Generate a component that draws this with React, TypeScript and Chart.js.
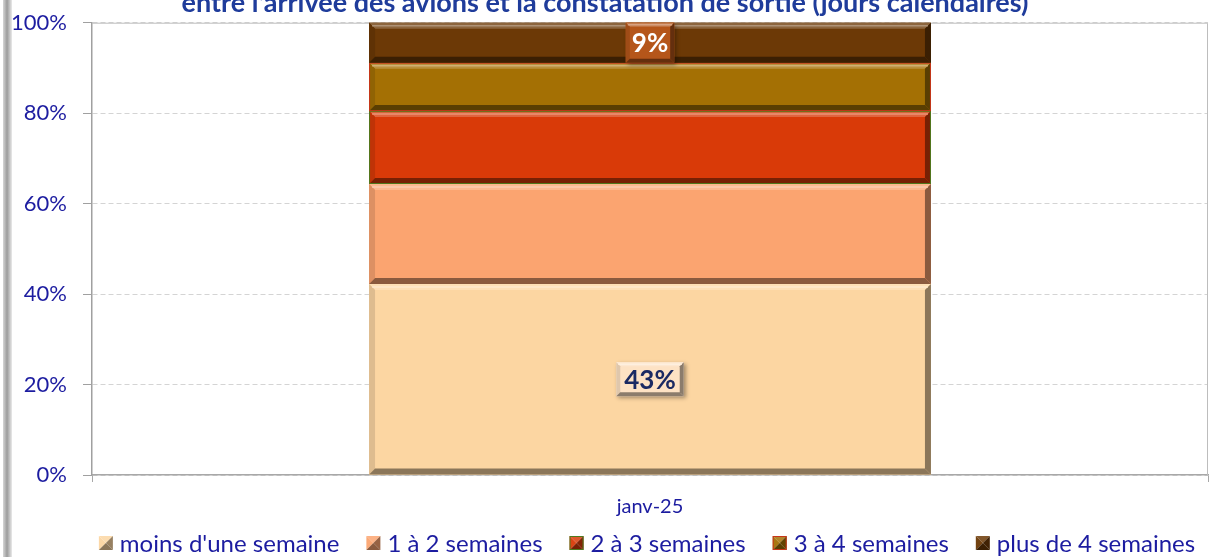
import React, { useEffect, useRef } from 'react';
import { Chart, registerables } from 'chart.js';

Chart.register(...registerables);

// ---------- data ----------
const categories = ['janv-25'];
const seriesNames = [
  "moins d'une semaine",
  '1 à 2 semaines',
  '2 à 3 semaines',
  '3 à 4 semaines',
  'plus de 4 semaines',
];
const moinsUneSemaine = [43];
const unADeuxSemaines = [22.5];
const deuxATroisSemaines = [16.4];
const troisAQuatreSemaines = [10.9];
const plusDeQuatreSemaines = [9];
const yTickLabels = ['0%', '20%', '40%', '60%', '80%', '100%'];
const titleText = "entre l'arrivée des avions et la constatation de sortie (jours calendaires)";

const rawSeries = [moinsUneSemaine, unADeuxSemaines, deuxATroisSemaines, troisAQuatreSemaines, plusDeQuatreSemaines];
const totals = categories.map((_, i) => rawSeries.reduce((s, arr) => s + arr[i], 0));
const shares = rawSeries.map((arr) => arr.map((v, i) => (v / totals[i]) * 100));

// ---------- styles ----------
const seriesColors = ['#FCD6A2', '#FBA470', '#D93A08', '#A47004', '#6C3906'];
const seriesEdges: (string | null)[] = [null, null, '#4F7A1E', '#C8361A', null];
const labelStyles: ({ fill: string; text: string; h: number | null; padX: number } | null)[] = [
  { fill: '#FDE2C4', text: '#1B2A63', h: 34, padX: 8 },
  null,
  null,
  null,
  { fill: '#B5561A', text: '#FFFFFF', h: null, padX: 6 },
];
const FONT = 'Lato, "Open Sans", sans-serif';
const NAVY = '#1C1CA0';

const mix = (hex: string, target: number, amt: number) => {
  const n = parseInt(hex.slice(1), 16);
  const r = (n >> 16) & 255, g = (n >> 8) & 255, b = n & 255;
  const f = (c: number) => Math.round(c + (target - c) * amt);
  return `rgb(${f(r)},${f(g)},${f(b)})`;
};
const lighten = (h: string, a: number) => mix(h, 255, a);
const darken = (h: string, a: number) => mix(h, 0, a);

function poly(ctx: CanvasRenderingContext2D, pts: number[][], fill: string) {
  ctx.beginPath();
  ctx.moveTo(pts[0][0], pts[0][1]);
  for (let i = 1; i < pts.length; i++) ctx.lineTo(pts[i][0], pts[i][1]);
  ctx.closePath();
  ctx.fillStyle = fill;
  ctx.fill();
}

function bevelRect(ctx: CanvasRenderingContext2D, l: number, t: number, w: number, h: number, color: string, bev: number) {
  const r = l + w, bot = t + h;
  const b = Math.min(bev, w / 2, h / 2);
  ctx.fillStyle = color;
  ctx.fillRect(l, t, w, h);
  poly(ctx, [[l, t], [r, t], [r - b, t + b], [l + b, t + b]], lighten(color, 0.22));
  poly(ctx, [[l, t], [l + b, t + b], [l + b, bot - b], [l, bot]], darken(color, 0.12));
  poly(ctx, [[r, t], [r, bot], [r - b, bot - b], [r - b, t + b]], darken(color, 0.45));
  poly(ctx, [[l, bot], [r, bot], [r - b, bot - b], [l + b, bot - b]], darken(color, 0.45));
  ctx.strokeStyle = lighten(color, 0.45);
  ctx.lineWidth = 1.5;
  ctx.beginPath();
  ctx.moveTo(l + b * 0.5, t + b * 0.5);
  ctx.lineTo(r - b * 0.5, t + b * 0.5);
  ctx.stroke();
}

const framePlugin = {
  id: 'frame',
  beforeDraw(chart: any) {
    const { ctx, width, height } = chart;
    ctx.save();
    ctx.fillStyle = '#FFFFFF';
    ctx.fillRect(0, 0, width, height);
    const g = ctx.createLinearGradient(3, 0, 12, 0);
    g.addColorStop(0, '#D6D6D6');
    g.addColorStop(0.45, '#9C9C9C');
    g.addColorStop(0.75, '#C6C6C6');
    g.addColorStop(1, '#EAEAEA');
    ctx.fillStyle = g;
    ctx.fillRect(3, 0, 9, height);
    ctx.restore();
  },
  beforeDatasetsDraw(chart: any) {
    const { ctx, chartArea: a } = chart;
    ctx.save();
    ctx.strokeStyle = '#BDBDBD';
    ctx.lineWidth = 1;
    ctx.beginPath();
    ctx.moveTo(a.left, a.top + 0.5);
    ctx.lineTo(a.right - 0.5, a.top + 0.5);
    ctx.lineTo(a.right - 0.5, a.bottom);
    ctx.stroke();
    ctx.restore();
  },
};

const bevelPlugin = {
  id: 'bevel',
  afterDatasetsDraw(chart: any) {
    const { ctx } = chart;
    ctx.save();
    chart.data.datasets.forEach((ds: any, di: number) => {
      const meta = chart.getDatasetMeta(di);
      meta.data.forEach((el: any) => {
        const p = el.getProps(['x', 'y', 'base', 'width'], true);
        const l = p.x - p.width / 2;
        const t = Math.min(p.y, p.base);
        const h = Math.abs(p.base - p.y);
        bevelRect(ctx, l, t, p.width, h, ds.backgroundColor, 6);
        const edge = seriesEdges[di];
        if (edge) {
          ctx.strokeStyle = edge;
          ctx.lineWidth = 1;
          ctx.strokeRect(l + 0.5, t + 0.5, p.width - 1, h - 1);
        }
      });
    });
    ctx.restore();
  },
};

const labelPlugin = {
  id: 'segLabels',
  afterDatasetsDraw(chart: any) {
    const { ctx } = chart;
    ctx.save();
    chart.data.datasets.forEach((ds: any, di: number) => {
      const st = labelStyles[di];
      if (!st) return;
      const meta = chart.getDatasetMeta(di);
      meta.data.forEach((el: any, i: number) => {
        const p = el.getProps(['x', 'y', 'base', 'width'], true);
        const txt = Math.round(rawSeries[di][i]) + '%';
        ctx.font = `bold 26px ${FONT}`;
        const tw = ctx.measureText(txt).width;
        const segH = Math.abs(p.base - p.y);
        const bh = st.h == null ? segH : Math.min(st.h, segH);
        const bw = tw + st.padX * 2;
        const cy = (p.y + p.base) / 2;
        const l = p.x - bw / 2, t = cy - bh / 2;
        ctx.save();
        ctx.shadowColor = 'rgba(0,0,0,0.35)';
        ctx.shadowBlur = 4;
        ctx.shadowOffsetX = 2;
        ctx.shadowOffsetY = 2;
        ctx.fillStyle = st.fill;
        ctx.fillRect(l, t, bw, bh);
        ctx.restore();
        bevelRect(ctx, l, t, bw, bh, st.fill, 4);
        ctx.fillStyle = st.text;
        ctx.textAlign = 'center';
        ctx.textBaseline = 'middle';
        ctx.fillText(txt, p.x, cy + 1);
      });
    });
    ctx.restore();
  },
};

const titleLegendPlugin = {
  id: 'titleLegend',
  afterDraw(chart: any) {
    const { ctx, chartArea: a } = chart;
    ctx.save();
    // title (its upper part lies outside the picture, as in the reference)
    ctx.font = `bold 27px ${FONT}`;
    ctx.fillStyle = '#1F3C9B';
    ctx.textAlign = 'center';
    ctx.textBaseline = 'alphabetic';
    ctx.fillText(titleText, 605, 12);

    // legend
    ctx.font = `24px ${FONT}`;
    const box = 14, gap = 7, itemGap = 27;
    const ds = chart.data.datasets;
    const widths = ds.map((d: any) => box + gap + ctx.measureText(d.label).width);
    const total = widths.reduce((s: number, w: number) => s + w, 0) + itemGap * (ds.length - 1);
    let x = (a.left + a.right) / 2 - 3 - total / 2;
    const cy = 543;
    ds.forEach((d: any, i: number) => {
      const c = d.backgroundColor as string;
      const l = x, t = cy - box / 2, r = l + box, b = t + box, mx = l + box / 2, my = t + box / 2;
      poly(ctx, [[l, t], [r, t], [mx, my]], lighten(c, 0.15));
      poly(ctx, [[l, t], [mx, my], [l, b]], lighten(c, 0.05));
      poly(ctx, [[r, t], [r, b], [mx, my]], darken(c, 0.4));
      poly(ctx, [[l, b], [r, b], [mx, my]], darken(c, 0.45));
      const edge = seriesEdges[i];
      if (edge) {
        ctx.strokeStyle = edge;
        ctx.lineWidth = 1;
        ctx.strokeRect(l + 0.5, t + 0.5, box - 1, box - 1);
      }
      ctx.fillStyle = NAVY;
      ctx.textAlign = 'left';
      ctx.textBaseline = 'middle';
      ctx.fillText(d.label, l + box + gap, cy + 1);
      x += widths[i] + itemGap;
    });
    ctx.restore();
  },
};

export default function App() {
  const ref = useRef<HTMLCanvasElement | null>(null);

  useEffect(() => {
    document.body.style.margin = '0';
    const canvas = ref.current;
    if (!canvas) return;
    const chart = new Chart(canvas, {
      type: 'bar',
      data: {
        labels: categories,
        datasets: seriesNames.map((name, i) => ({
          label: name,
          data: shares[i],
          backgroundColor: seriesColors[i],
          borderWidth: 0,
          barPercentage: 1,
          categoryPercentage: 0.5035,
        })),
      },
      options: {
        animation: false,
        responsive: false,
        devicePixelRatio: 1,
        layout: { padding: { left: 12, right: 4, top: 22.7, bottom: 38 } },
        plugins: {
          legend: { display: false },
          title: { display: false },
          tooltip: { enabled: false },
        },
        scales: {
          x: {
            stacked: true,
            offset: true,
            afterFit: (s: any) => {
              s.height = 44;
              s.paddingLeft = 0;
              s.paddingRight = 0;
            },
            grid: {
              display: true,
              offset: true,
              drawOnChartArea: false,
              drawTicks: true,
              tickLength: 7,
              color: '#A8A8A8',
              tickColor: '#A8A8A8',
            },
            border: { display: true, color: '#A8A8A8', width: 1.5 },
            ticks: {
              color: NAVY,
              font: { family: FONT, size: 20 },
              padding: 13,
            },
          },
          y: {
            stacked: true,
            min: 0,
            max: 100,
            afterFit: (s: any) => {
              s.width = 80;
              s.paddingTop = 0;
              s.paddingBottom = 0;
            },
            ticks: {
              stepSize: 20,
              color: NAVY,
              font: { family: FONT, size: 22 },
              padding: 16,
              callback: (_v: any, idx: number) => yTickLabels[idx],
            },
            grid: {
              color: '#D4D4D4',
              lineWidth: 1,
              drawTicks: true,
              tickLength: 9,
              tickColor: '#A0A0A0',
            },
            border: { display: true, color: '#A0A0A0', width: 1.5, dash: [5, 3] },
          },
        },
      },
      plugins: [framePlugin, bevelPlugin, labelPlugin, titleLegendPlugin],
    } as any);
    return () => chart.destroy();
  }, []);

  return (
    <div style={{ position: 'fixed', left: 0, top: 0, width: 1212, height: 557 }}>
      <canvas ref={ref} width={1212} height={557} />
    </div>
  );
}
